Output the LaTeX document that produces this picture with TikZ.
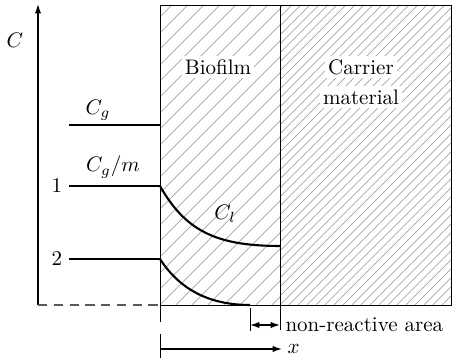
\documentclass[tikz,border=0pt]{standalone}
\usetikzlibrary{arrows.meta}
\begin{document}
\begin{tikzpicture}[x=0.476pt,y=-0.476pt,
  curve/.style={line width=1pt},
  level/.style={line width=1pt},
  lab/.style={fill=white,inner sep=1.5pt},
  tick/.style={line width=0.45pt},
  hatch/.style={gray!70,line width=0.33pt},
  >={Latex[length=4.5pt,width=3pt]}]
\useasboundingbox (0,0) rectangle (452,359);
% regions
\begin{scope}
  \clip (160,5) rectangle (280,305);
  \foreach \c in {-304,-288,...,130} \draw[hatch] (160+\c,305) -- ++(300,-300);
\end{scope}
\begin{scope}
  \clip (280,5) rectangle (452,305);
  \foreach \c in {-306,-297,...,180} \draw[hatch] (280+\c,305) -- ++(300,-300);
\end{scope}
\draw[line width=0.45pt] (160,322) -- (160,5) -- (451.7,5) -- (451.7,305) -- (160,305);
\draw[line width=0.45pt] (280,5) -- (280,330);
% axis
\coordinate (o) at (38,305);
\coordinate (top) at (38,4);
\draw[semithick,->] (o) -- (top);
\draw[semithick,dash pattern=on 4.5pt off 3pt,gray!70!black] (o) -- (160,305);
\node (C) at (15,40) {$C$};
% levels
\coordinate (g0) at (69,125); \coordinate (g1) at (160,125);
\coordinate (a0) at (69,186); \coordinate (a1) at (160,186);
\coordinate (b0) at (69,259); \coordinate (b1) at (160,259);
\draw[level] (g0) -- (g1);
\draw[level] (a0) -- (a1);
\draw[level] (b0) -- (b1);
\coordinate (a2) at (280,246);
\coordinate (b2) at (250,305);
\draw[curve] (a1) .. controls (185,230) and (215,246) .. (a2);
\draw[curve] (b1) .. controls (180,290) and (210,305) .. (b2);
\node (Cg) at (98,110) {$C_g$};
\node (Cgm) at (113,167) {$C_g/m$};
\node (n1) at (57,186) {1};
\node (n2) at (57,259) {2};
\node (Cl) at (225,214) {$C_l$};
% region labels
\node[lab] (bio) at (218,67) {Biofilm};
\node[lab] (car) at (361,67) {Carrier};
\node[lab] (mat) at (361,97) {material};
% non-reactive area
\draw[tick] (250,308) -- (250,331);
\coordinate (nr0) at (250,325); \coordinate (nr1) at (280,325);
\draw[semithick,<->] (nr0) -- (nr1);
\node[anchor=west,inner sep=1pt] (nr) at (283,325) {non-reactive area};
% x arrow
\draw[tick] (160,334) -- (160,358);
\coordinate (x0) at (160,349); \coordinate (x1) at (282,349);
\draw[semithick,->] (x0) -- (x1);
\node[anchor=west,inner sep=1pt] (xl) at (285,349) {$x$};
\end{tikzpicture}
\end{document}
